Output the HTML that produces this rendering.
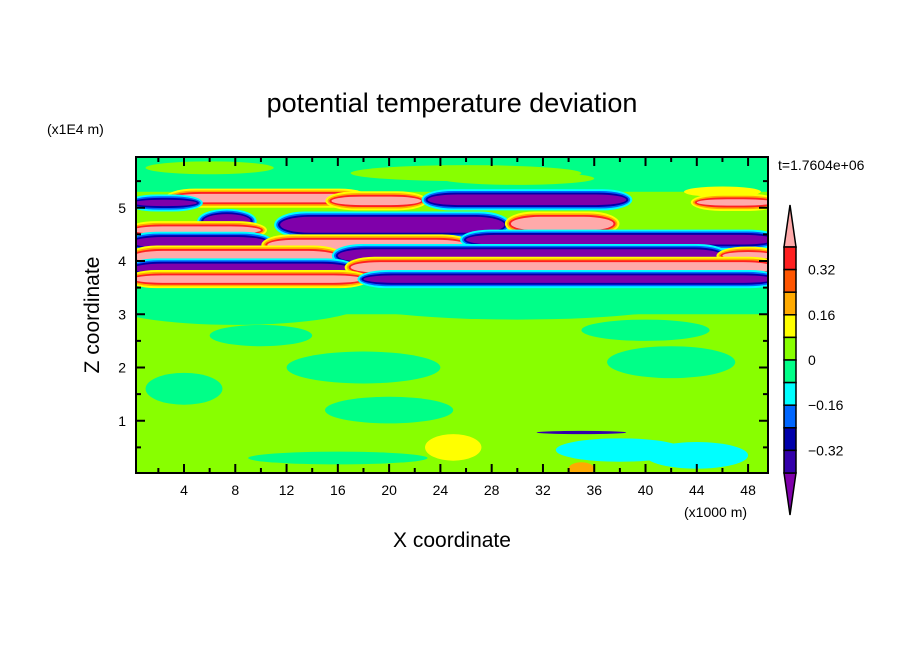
<!DOCTYPE html>
<html><head><meta charset="utf-8"><style>
body{margin:0;background:#fff;}
svg{display:block;font-family:"Liberation Sans",sans-serif;}
</style></head><body>
<svg id="c" width="904" height="654"></svg>
<script>
const levelColors=["#7f00aa","#3300aa","#0000aa","#0066ff","#00ffff","#00ff88","#88ff00","#ffff00","#ffaa00","#ff5500","#ff2020","#ffaaaa"];
const cbLabels=["0.32","0.16","0","-0.16","-0.32"];
const cbLabelLevels=[0.32,0.16,0,-0.16,-0.32];
const xTicks=[4,8,12,16,20,24,28,32,36,40,44,48];
const zTicks=[1,2,3,4,5];
// stripes: x start, x end, z center, half thickness, sign (+1 warm, -1 cold)
const sX0=[3,15.5,0,23,5.5,11.5,29.5,0,0,10.5,26,0,16,46,0,17,0,18,44];
const sX1=[18,22.5,5,38.5,9.2,29,37.5,10,10.5,26,50,16,46,50,17,50,18,50,50];
const sZ=[5.18,5.13,5.09,5.15,4.75,4.68,4.7,4.58,4.35,4.3,4.4,4.08,4.1,4.1,3.86,3.88,3.66,3.66,5.1];
const sH=[0.08,0.08,0.06,0.1,0.13,0.15,0.13,0.07,0.1,0.1,0.09,0.11,0.12,0.07,0.09,0.1,0.07,0.07,0.06];
const sSign=[1,1,-1,-1,-1,-1,1,1,-1,1,-1,1,-1,1,-1,1,1,-1,1];
// blobs: x center, z center, x radius, z radius, color level index
const bX=[8,30,18,42,25,38,44,35,35,16,4,20,10,40,26,30,6,46];
const bZ=[3.2,3.3,2.0,2.1,0.5,0.45,0.35,0.78,0.1,0.3,1.6,1.2,2.6,2.7,5.65,5.55,5.75,5.3];
const bRX=[10,14,6,5,2.2,5,4,3.5,1,7,3,5,4,5,9,6,5,3];
const bRZ=[0.4,0.4,0.3,0.3,0.25,0.22,0.25,0.03,0.12,0.12,0.3,0.25,0.2,0.2,0.15,0.12,0.12,0.1];
const bL=[5,5,5,5,7,4,4,1,8,5,5,5,5,5,6,6,6,7];

const svg=document.getElementById('c');
const NS='http://www.w3.org/2000/svg';
const PX0=136,PX1=768,PY0=157,PY1=473;
const xs=v=>184+(v-4)*12.82;
const zs=v=>474-v*53.25;
function mk(t,a,p){const e=document.createElementNS(NS,t);for(const k in a)e.setAttribute(k,a[k]);(p||svg).appendChild(e);return e;}
const clip=mk('clipPath',{id:'pc'});mk('rect',{x:PX0,y:PY0,width:PX1-PX0,height:PY1-PY0},clip);
const g=mk('g',{'clip-path':'url(#pc)'});


let bg=mk('rect',{x:PX0,y:PY0,width:PX1-PX0,height:PY1-PY0,fill:"#88ff00"},g);


let up=mk('rect',{x:PX0,y:zs(5.95),width:PX1-PX0,height:zs(5.3)-zs(5.95),fill:"#00ff88"},g);


let mid=mk('rect',{x:PX0,y:zs(3.55),width:PX1-PX0,height:zs(3.0)-zs(3.55),fill:"#00ff88"},g);


for(let i=0;i<bX.length;i++){
  const e=mk('ellipse',{cx:xs(bX[i]),cy:zs(bZ[i]),rx:bRX[i]*12.82,ry:bRZ[i]*53.25,fill:levelColors[bL[i]]},g);
  
  
}
for(let i=0;i<sX0.length;i++){
  const warm=sSign[i]>0;
  const seq=warm?[7,8,10,11]:[4,3,2,0];
  const pads=[0.1,0.065,0.035,0];
  for(let k=0;k<4;k++){
    const h=sH[i]+pads[k];
    const x0=xs(sX0[i])-pads[k]*60,x1=xs(sX1[i])+pads[k]*60;
    const r=mk('rect',{x:x0,y:zs(sZ[i]+h),width:x1-x0,height:2*h*53.25,rx:Math.min(30,(x1-x0)/2),ry:h*53.25,fill:levelColors[seq[k]]},g);
    
    
  }
}
let fr=mk('rect',{x:PX0,y:PY0,width:PX1-PX0,height:PY1-PY0,fill:'none',stroke:'#000','stroke-width':2});


for(let v=2;v<=49;v+=2){const L=(v%4===0)?9:5;
  mk('line',{x1:xs(v),x2:xs(v),y1:PY1,y2:PY1-L,stroke:'#000','stroke-width':2});
  mk('line',{x1:xs(v),x2:xs(v),y1:PY0,y2:PY0+L,stroke:'#000','stroke-width':2});}
for(let v=0.5;v<5.95;v+=0.5){const L=(Math.abs(v-Math.round(v))<0.01)?9:5;
  mk('line',{x1:PX0,x2:PX0+L,y1:zs(v),y2:zs(v),stroke:'#000','stroke-width':2});
  mk('line',{x1:PX1,x2:PX1-L,y1:zs(v),y2:zs(v),stroke:'#000','stroke-width':2});}
xTicks.forEach(v=>{const t=mk('text',{x:xs(v),y:495,'text-anchor':'middle','font-size':14});t.textContent=v;
 });
zTicks.forEach(v=>{const t=mk('text',{x:126,y:zs(v)+5,'text-anchor':'end','font-size':14});t.textContent=v;
 });
function txt(s,a,name){const t=mk('text',a);t.textContent=s;return t;}
txt('potential temperature deviation',{x:452,y:112,'text-anchor':'middle','font-size':27},'chart-title');
txt('(x1E4 m)',{x:47,y:134,'font-size':14},'z-unit-label');
txt('Z coordinate',{x:0,y:0,'text-anchor':'middle','font-size':21,transform:'translate(99,315) rotate(-90)'},'y-axis-title');
txt('X coordinate',{x:452,y:547,'text-anchor':'middle','font-size':21},'x-axis-title');
txt('(x1000 m)',{x:684,y:517,'font-size':14},'x-unit-label');
txt('t=1.7604e+06',{x:778,y:170,'font-size':14},'time-label');
const cbT=247,cbB=473,cbX=784,cbW=12,n=10,bh=(cbB-cbT)/n;
const cb=mk('g',{});
mk('polygon',{points:`${cbX},${cbT} ${cbX+cbW/2},205 ${cbX+cbW},${cbT}`,fill:levelColors[11],stroke:'#000','stroke-width':1.5},cb);
mk('polygon',{points:`${cbX},${cbB} ${cbX+cbW/2},515 ${cbX+cbW},${cbB}`,fill:levelColors[0],stroke:'#000','stroke-width':1.5},cb);
for(let i=0;i<n;i++){mk('rect',{x:cbX,y:cbT+i*bh,width:cbW,height:bh,fill:levelColors[10-i],stroke:'#000','stroke-width':1.5},cb);}
const lv=v=>cbT+(0.4-v)/0.08*bh;
cbLabels.forEach((s,i)=>{txt(s.replace('-','\u2212'),{x:808,y:lv(cbLabelLevels[i])+5,'font-size':14},'colorbar-label');});
</script>
</body></html>
